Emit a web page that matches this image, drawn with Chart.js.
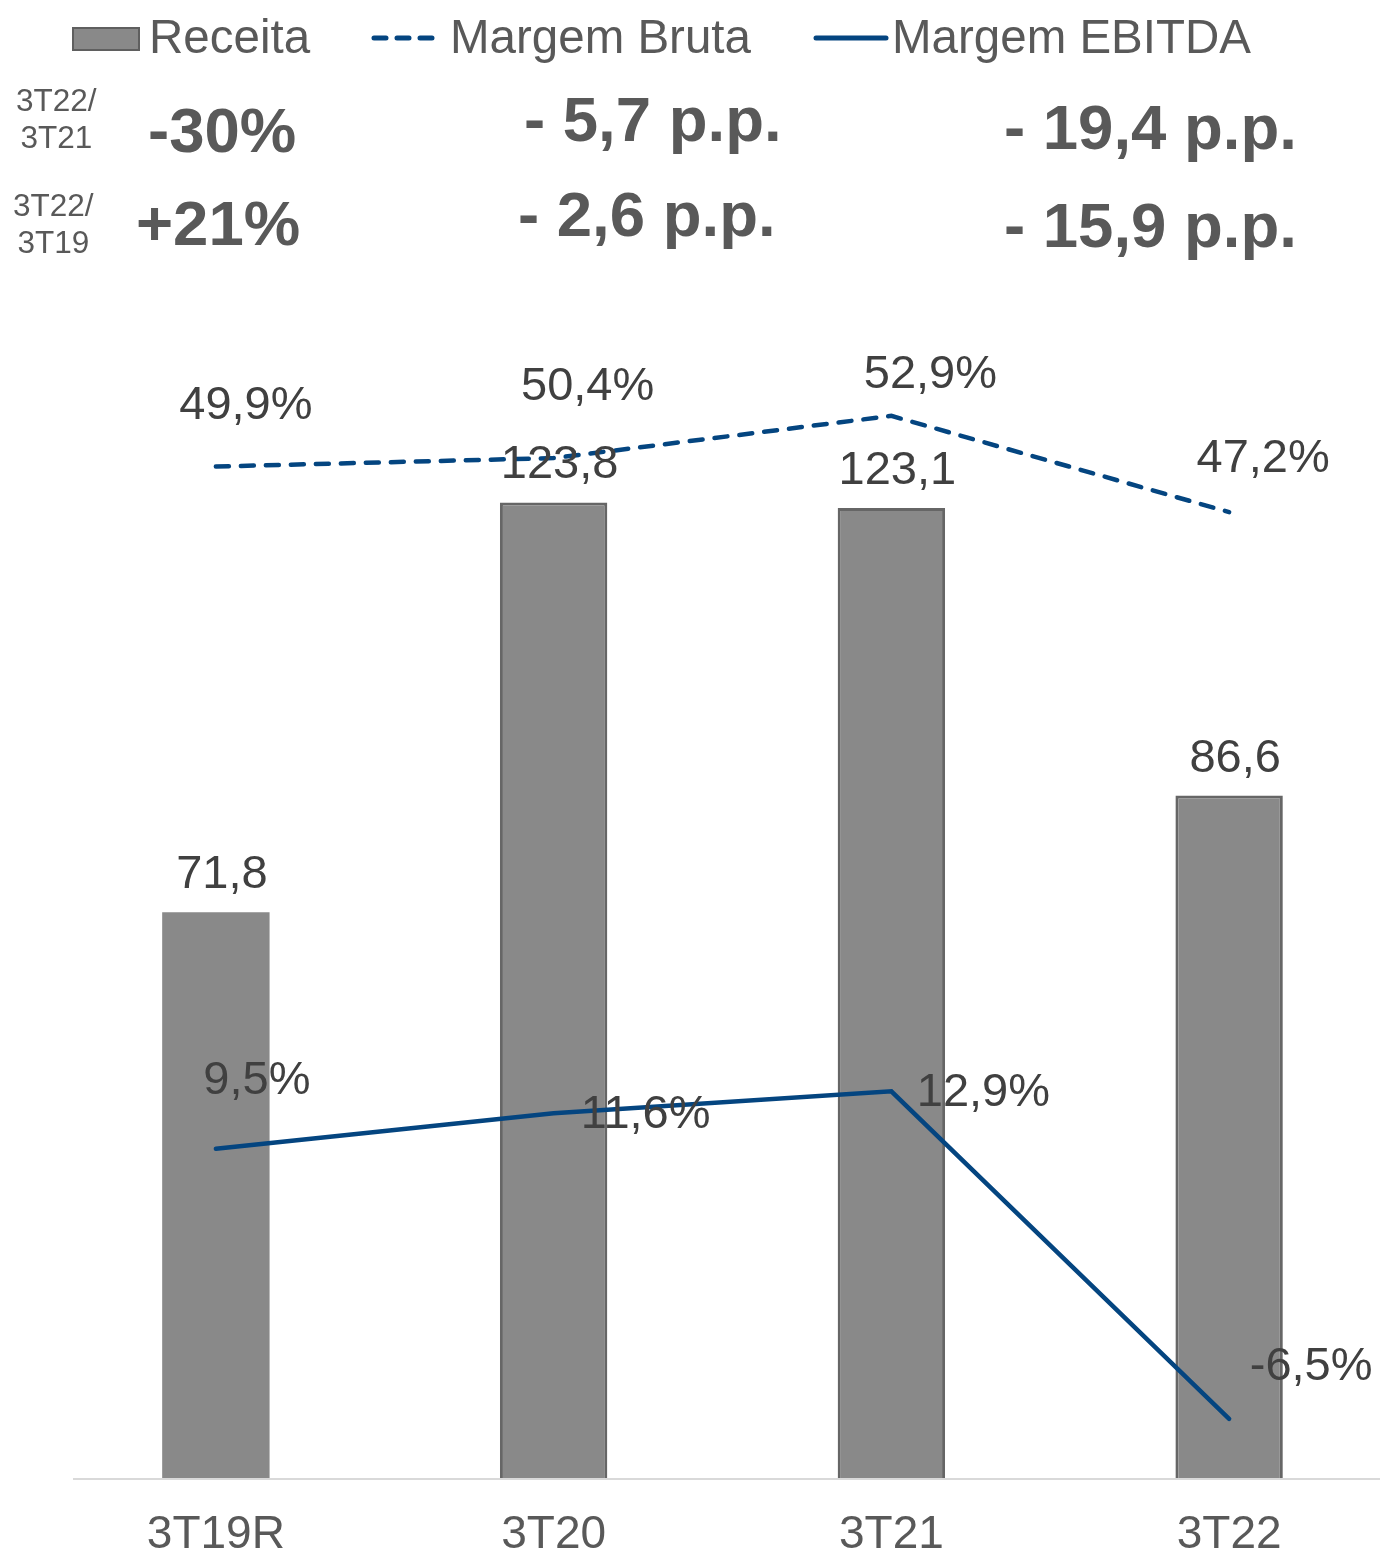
<!DOCTYPE html>
<html lang="pt">
<head>
  <meta charset="UTF-8">
  <title>Receita e margens</title>
  <script src="https://cdn.jsdelivr.net/npm/chart.js"></script>
  <style>
    body {
      margin: 0;
      width: 1380px;
      height: 1557px;
      overflow: hidden;
      background: #ffffff;
      font-family: "Liberation Sans", Arial, sans-serif;
      color: #595959;
      position: relative;
    }
    .chart-box {
      position: absolute;
      left: 0;
      top: 0;
      width: 1400px;
      height: 1557px;
    }
    .txt {
      position: absolute;
      white-space: nowrap;
      line-height: 1;
    }
    .legend-text { font-size: 47.5px; top: 13px; }
    .small { font-size: 31.5px; text-align: center; line-height: 37px; }
    .big { font-size: 63.5px; font-weight: bold; }
    .swatch {
      position: absolute;
      left: 72px;
      top: 27px;
      width: 64px;
      height: 20px;
      background: #898989;
      border: 2px solid #5f5f5f;
    }
  </style>
</head>
<body>
  <div class="chart-box">
    <canvas id="receitaChart"></canvas>
  </div>

  <!-- legenda -->
  <div class="swatch"></div>
  <div class="txt legend-text" style="left:149px">Receita</div>
  <svg style="position:absolute;left:370px;top:30px" width="72" height="16">
    <line x1="4" y1="8" x2="68" y2="8" stroke="#044580" stroke-width="5"
          stroke-linecap="round" stroke-dasharray="12 11"/>
  </svg>
  <div class="txt legend-text" style="left:450px">Margem Bruta</div>
  <svg style="position:absolute;left:812px;top:30px" width="78" height="16">
    <line x1="4" y1="8" x2="74" y2="8" stroke="#044580" stroke-width="5" stroke-linecap="round"/>
  </svg>
  <div class="txt legend-text" style="left:892px">Margem EBITDA</div>

  <!-- variacoes -->
  <div class="txt small" style="left:16px;top:82px">3T22/<br>3T21</div>
  <div class="txt small" style="left:13px;top:187px">3T22/<br>3T19</div>
  <div class="txt big" style="left:148px;top:99px">-30%</div>
  <div class="txt big" style="left:136px;top:192px">+21%</div>
  <div class="txt big" style="left:524px;top:88px">- 5,7 p.p.</div>
  <div class="txt big" style="left:518px;top:183px">- 2,6 p.p.</div>
  <div class="txt big" style="left:1004px;top:96px">- 19,4 p.p.</div>
  <div class="txt big" style="left:1004px;top:194px">- 15,9 p.p.</div>

  <script>
    const periods = ['3T19R', '3T20', '3T21', '3T22'];
    const receita = [71.8, 123.8, 123.1, 86.6];
    const margemBruta = [49.9, 50.4, 52.9, 47.2];
    const margemEbitda = [9.5, 11.6, 12.9, -6.5];

    const blue = '#044580';

    // rotulos de valor, deslocados como no original
    const valueLabels = {
      id: 'valueLabels',
      afterDatasetsDraw(chart, args, opts) {
        const ctx = chart.ctx;
        ctx.save();
        ctx.font = '47px "Liberation Sans", Arial, sans-serif';
        ctx.fillStyle = '#404040';
        ctx.textAlign = 'center';
        ctx.textBaseline = 'middle';
        chart.data.datasets.forEach((ds, i) => {
          const meta = chart.getDatasetMeta(i);
          const offs = opts.offsets[i];
          meta.data.forEach((el, j) => {
            const v = ds.data[j];
            let t = v.toFixed(1).replace('.', ',');
            if (ds.yAxisID === 'y1') t += '%';
            ctx.fillText(t, el.x + offs[j][0], el.y + offs[j][1]);
          });
        });
        ctx.restore();
      }
    };

    // linha do eixo x, um pouco mais curta a esquerda
    const axisLine = {
      id: 'axisLine',
      beforeDatasetsDraw(chart) {
        const { ctx, chartArea } = chart;
        ctx.save();
        ctx.strokeStyle = '#d9d9d9';
        ctx.lineWidth = 2;
        ctx.beginPath();
        ctx.moveTo(chartArea.left + 26, chartArea.bottom + 1);
        ctx.lineTo(chart.width - 20, chartArea.bottom + 1);
        ctx.stroke();
        ctx.restore();
      }
    };

    const ctx = document.getElementById('receitaChart').getContext('2d');
    new Chart(ctx, {
      data: {
        labels: periods,
        datasets: [
          {
            type: 'line',
            label: 'Margem Bruta',
            data: margemBruta,
            yAxisID: 'y1',
            borderColor: blue,
            borderWidth: 4.5,
            borderDash: [13, 12],
            borderCapStyle: 'round',
            pointRadius: 0,
            tension: 0,
            order: 0
          },
          {
            type: 'line',
            label: 'Margem EBITDA',
            data: margemEbitda,
            yAxisID: 'y1',
            borderColor: blue,
            borderWidth: 4.5,
            borderCapStyle: 'round',
            pointRadius: 0,
            tension: 0,
            order: 0
          },
          {
            type: 'bar',
            label: 'Receita',
            data: receita,
            yAxisID: 'y',
            backgroundColor: '#898989',
            borderColor: '#666666',
            borderWidth: [0, 3, 3, 3],
            barPercentage: 0.318,
            categoryPercentage: 1,
            order: 1
          }
        ]
      },
      options: {
        responsive: true,
        maintainAspectRatio: false,
        animation: false,
        layout: {
          padding: { top: 296, left: 47, right: 2, bottom: 0 }
        },
        plugins: {
          legend: { display: false },
          tooltip: { enabled: false },
          valueLabels: {
            offsets: [
              [[30, -60], [34, -71], [39, -41], [34, -53]],
              [[41, -68], [92, 2], [92, 2], [82, -52]],
              [[6, -37], [6, -37], [6, -37], [6, -37]]
            ]
          }
        },
        scales: {
          x: {
            grid: { display: false },
            border: { display: false },
            ticks: {
              color: '#595959',
              font: { size: 46, family: '"Liberation Sans", Arial, sans-serif' },
              padding: 22,
              maxRotation: 0
            },
            afterFit: (scale) => { scale.height = 79; }
          },
          y: { display: false, min: 0, max: 150 },
          y1: { display: false, min: -10, max: 60 }
        }
      },
      plugins: [axisLine, valueLabels]
    });
  </script>
</body>
</html>
